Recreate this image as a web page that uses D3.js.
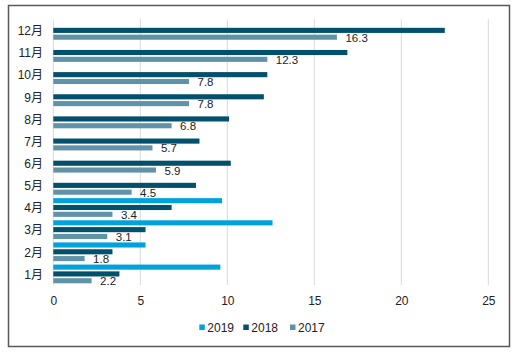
<!DOCTYPE html>
<html>
<head>
<meta charset="utf-8">
<script src="https://cdn.jsdelivr.net/npm/d3@7/dist/d3.min.js"></script>
<style>
  html, body { margin: 0; padding: 0; background: #fff; }
  svg { display: block; }
  text { font-family: "Liberation Sans", "Noto Sans CJK SC", sans-serif; fill: #222; }
</style>
</head>
<body>
<svg id="chart" width="515" height="356"></svg>
<script>
const categories = ["1月","2月","3月","4月","5月","6月","7月","8月","9月","10月","11月","12月"];
const seriesNames = ["2019","2018","2017"];
const values2019 = [9.6, 5.3, 12.6, 9.7, null, null, null, null, null, null, null, null];
const values2018 = [3.8, 3.4, 5.3, 6.8, 8.2, 10.2, 8.4, 10.1, 12.1, 12.3, 16.9, 22.5];
const values2017 = [2.2, 1.8, 3.1, 3.4, 4.5, 5.9, 5.7, 6.8, 7.8, 7.8, 12.3, 16.3];
const xTicks = [0, 5, 10, 15, 20, 25];
const colors = ["#00a2dc", "#02506b", "#6093a8"];

const seriesValues = [values2019, values2018, values2017];

const svg = d3.select("#chart");

svg.append("rect")
  .attr("x", 8.5).attr("y", 5.5).attr("width", 501).attr("height", 341)
  .attr("fill", "#fff").attr("stroke", "#595959").attr("stroke-width", 1.5);

const plotLeft = 53.3, plotRight = 488.3, plotTop = 19.3, plotBottom = 285;

const x = d3.scaleLinear().domain([0, 25]).range([plotLeft, plotRight]);
const y = d3.scaleBand().domain(categories.slice().reverse()).range([plotTop, plotBottom]).padding(0);
const ys = d3.scaleBand().domain(seriesNames).range([0, y.bandwidth()]).paddingInner(0.25).paddingOuter(0.25);

// gridlines
svg.append("g").selectAll("line").data(xTicks).join("line")
  .attr("x1", d => x(d)).attr("x2", d => x(d))
  .attr("y1", plotTop).attr("y2", plotBottom)
  .attr("stroke", "#d9d9d9").attr("stroke-width", 1);

// x axis tick labels
const xAxis = d3.axisBottom(x).tickValues(xTicks).tickSize(0).tickPadding(0);
const gx = svg.append("g").attr("transform", `translate(0,${plotBottom})`).call(xAxis);
gx.select(".domain").remove();
gx.selectAll("text").attr("y", 16).attr("dy", "0.35em")
  .style("font-size", "12px").style("font-family", "Liberation Sans, sans-serif").attr("fill", "#222");

// y axis labels
const yAxis = d3.axisLeft(y).tickSize(0).tickPadding(0);
const gy = svg.append("g").attr("transform", `translate(43,0)`).call(yAxis);
gy.select(".domain").remove();
gy.selectAll("text").attr("x", 0).attr("dy", "0.4em")
  .style("font-size", "12px").style("font-family", "Liberation Sans, Noto Sans CJK SC, sans-serif").attr("fill", "#222");

// bars
seriesNames.forEach((s, si) => {
  const data = categories.map((c, i) => ({ c, v: seriesValues[si][i] })).filter(d => d.v != null);
  svg.append("g").selectAll("rect").data(data).join("rect")
    .attr("x", x(0))
    .attr("y", d => y(d.c) + ys(s))
    .attr("width", d => x(d.v) - x(0))
    .attr("height", ys.bandwidth())
    .attr("fill", colors[si]);
});

// data labels for 2017
const lab = categories.map((c, i) => ({ c, v: values2017[i] }));
svg.append("g").selectAll("text").data(lab).join("text")
  .attr("x", d => x(d.v) + 8.5)
  .attr("y", d => y(d.c) + ys("2017") + ys.bandwidth() / 2 + 0.5)
  .attr("dy", "0.35em")
  .style("font-size", "11.5px")
  .text(d => d.v.toFixed(1));

// legend
const legendX = [199.3, 243.3, 290];
const lg = svg.append("g");
seriesNames.forEach((s, si) => {
  lg.append("rect").attr("x", legendX[si]).attr("y", 324.5).attr("width", 5.5).attr("height", 5.5).attr("fill", colors[si]);
  lg.append("text").attr("x", legendX[si] + 8).attr("y", 327.3).attr("dy", "0.35em")
    .style("font-size", "12px").text(s);
});
</script>
</body>
</html>
